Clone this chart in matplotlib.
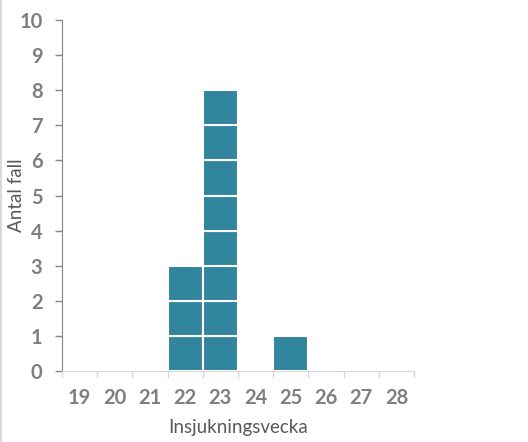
import numpy as np
import matplotlib.pyplot as plt
from matplotlib.lines import Line2D

weeks = [19, 20, 21, 22, 23, 24, 25, 26, 27, 28]
cases = [0, 0, 0, 3, 8, 0, 1, 0, 0, 0]

bar_color = '#31859C'
tick_color = '#7F7F7F'

plt.rcParams['font.family'] = ['Lato', 'DejaVu Sans']

fig = plt.figure(figsize=(5.28, 4.42), dpi=100)
ax = fig.add_axes([62/528, 1-371/442, 352/528, 351/442])

x = np.arange(len(weeks))
# one box per case, stacked
for xi, n in zip(x, cases):
    for k in range(n):
        ax.bar(xi, 1, bottom=k, width=1.0, color=bar_color,
               edgecolor='white', linewidth=1.5)

ax.set_xlim(-0.5, len(weeks) - 0.5)
ax.set_ylim(0, 10)
ax.set_yticks(range(0, 11))
ax.set_xticks(x)
ax.set_xticklabels([str(w) for w in weeks])
ax.set_xticks(np.arange(-0.5, len(weeks), 1.0), minor=True)

for sp in ['top', 'right']:
    ax.spines[sp].set_visible(False)
ax.spines['left'].set_color('#868686')
ax.spines['bottom'].set_color('#D9D9D9')

ax.tick_params(axis='y', colors='#868686', length=5, width=1, labelcolor=tick_color,
               labelsize=14.5, pad=9)
ax.tick_params(axis='x', which='major', length=0, labelcolor=tick_color, labelsize=14.5, pad=12)
ax.tick_params(axis='x', which='minor', length=5, color='#D9D9D9', width=1)
for lab in ax.get_xticklabels() + ax.get_yticklabels():
    lab.set_fontweight('bold')

ax.set_ylabel('Antal fall', fontsize=13.5, color='#595959')
ax.set_xlabel('Insjukningsvecka', fontsize=13.5, color='#595959')
ax.yaxis.set_label_coords(-0.128, 0.5)
ax.xaxis.set_label_coords(0.5, -0.162)
ax.yaxis.label.set_va('center')
ax.xaxis.label.set_va('center')

# thin border at the left edge of the image
fig.add_artist(Line2D([0.001, 0.001], [0, 1], color='#D9D9D9', linewidth=1.5,
                      transform=fig.transFigure))

fig.savefig('out.png', dpi=100)
